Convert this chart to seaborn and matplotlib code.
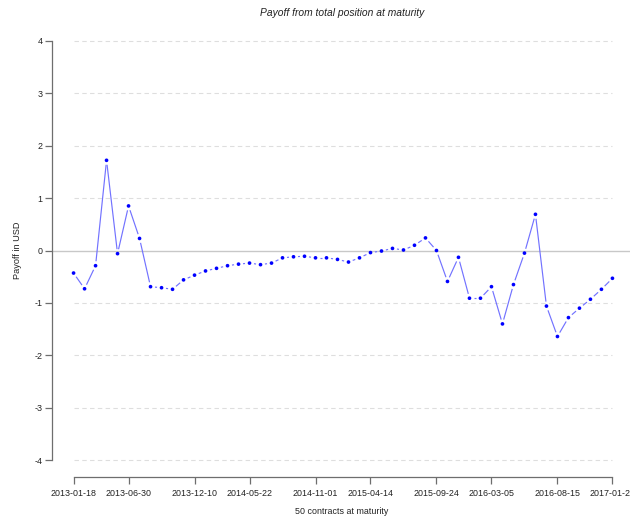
import numpy as np
import pandas as pd
import matplotlib
matplotlib.use("Agg")
import matplotlib.pyplot as plt
import seaborn as sns

# Payoff of each of the 50 contracts at maturity (USD)
contract = list(range(1, 51))
payoff = [-0.43, -0.73, -0.29, 1.72, -0.06, 0.85, 0.23, -0.69, -0.71, -0.74,
          -0.56, -0.47, -0.39, -0.34, -0.29, -0.26, -0.24, -0.27, -0.24, -0.14,
          -0.12, -0.11, -0.14, -0.14, -0.17, -0.22, -0.14, -0.04, -0.01, 0.04,
          0.01, 0.10, 0.24, 0.00, -0.59, -0.13, -0.91, -0.91, -0.69, -1.40,
          -0.65, -0.05, 0.69, -1.06, -1.64, -1.28, -1.10, -0.93, -0.74, -0.53]

tick_pos = [1, 6, 12, 17, 23, 28, 34, 39, 45, 50]
tick_labels = ["2013-01-18", "2013-06-30", "2013-12-10", "2014-05-22", "2014-11-01",
               "2015-04-14", "2015-09-24", "2016-03-05", "2016-08-15", "2017-01-25"]
y_ticks = [-4, -3, -2, -1, 0, 1, 2, 3, 4]

df = pd.DataFrame({"contract": contract, "payoff": payoff})

sns.set_style("white")
plt.rcParams["font.family"] = ["Liberation Sans", "DejaVu Sans"]

W, H = 630, 519
fig = plt.figure(figsize=(W / 100, H / 100), dpi=100)
# plot region in pixels: x 52..634, y 24..477
ax = fig.add_axes([52 / W, 1 - 477 / H, (634 - 52) / W, (477 - 24) / H])

xr = contract[-1] - contract[0]
ax.set_xlim(contract[0] - 0.04 * xr, contract[-1] + 0.04 * xr)
ax.set_ylim(-4 - 0.32, 4 + 0.32)

# dashed grid and solid zero line
for yv in y_ticks:
    if yv != 0:
        ax.hlines(yv, contract[0], contract[-1], colors="#dedede",
                  linestyles=(0, (4, 3)), linewidth=0.8, zorder=1)
ax.axhline(0, color="#c8c8c8", linewidth=1.0, zorder=1)

# connecting segments with a small gap around each point
fig.canvas.draw()
pts = ax.transData.transform(np.column_stack([df["contract"], df["payoff"]]))
gap = 4.5
inv = ax.transData.inverted()
for p0, p1 in zip(pts[:-1], pts[1:]):
    d = p1 - p0
    L = np.hypot(*d)
    if L > 2 * gap:
        u = d / L
        a = inv.transform(p0 + u * gap)
        b = inv.transform(p1 - u * gap)
        ax.plot([a[0], b[0]], [a[1], b[1]], color="#7272ff", linewidth=0.85,
                solid_capstyle="butt", zorder=2)

sns.scatterplot(data=df, x="contract", y="payoff", ax=ax, color="#0000ff",
                s=7, marker="o", edgecolor="none", zorder=3)

# R-style detached axes
for s in ["top", "right"]:
    ax.spines[s].set_visible(False)
ax.spines["left"].set_bounds(-4, 4)
ax.spines["bottom"].set_bounds(contract[0], contract[-1])
for s in ["left", "bottom"]:
    ax.spines[s].set_color("#6e6e6e")
    ax.spines[s].set_linewidth(0.9)

ax.set_yticks(y_ticks)
ax.set_yticklabels([str(v) for v in y_ticks])
ax.set_xticks(tick_pos)
ax.set_xticklabels(tick_labels)
ax.tick_params(axis="both", direction="out", length=5, width=0.9, color="#6e6e6e",
               labelsize=6.4, labelcolor="#222222", left=True, bottom=True)
ax.tick_params(axis="x", pad=4)
ax.tick_params(axis="y", pad=2)

ax.set_xlabel("")
ax.set_ylabel("")
fig.text(342 / W, 1 - 512 / H, "50 contracts at maturity", ha="center",
         va="center", fontsize=6.4, color="#222222")
fig.text(17 / W, 1 - 250 / H, "Payoff in USD", ha="center", va="center",
         rotation=90, fontsize=6.6, color="#222222")
fig.text(342 / W, 1 - 13 / H, "Payoff from total position at maturity",
         ha="center", va="center", fontsize=7.4, style="italic", color="#222222")

fig.savefig("out.png", dpi=100)
